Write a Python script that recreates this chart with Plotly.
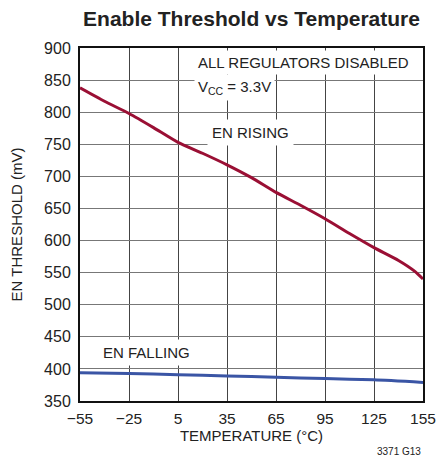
import plotly.graph_objects as go

temp_rise = [-55, -40, -25, -10, 5, 20, 35, 50, 65, 80, 95, 110, 125, 140, 150, 155]
en_rising = [838, 817, 798, 776, 753, 736, 718, 698, 675, 655, 634, 611, 589, 569, 552, 540]

temp_fall = [-55, -25, 5, 35, 65, 95, 125, 155]
en_falling = [394, 393, 391, 389, 387, 385, 383, 379]

x_ticks = [-55, -25, 5, 35, 65, 95, 125, 155]
x_tick_labels = ["\u221255", "\u221225", "5", "35", "65", "95", "125", "155"]
y_ticks = [350, 400, 450, 500, 550, 600, 650, 700, 750, 800, 850, 900]

FONT = "Liberation Sans, Arial, Helvetica, sans-serif"
H = 449

fig = go.Figure()
fig.add_trace(go.Scatter(x=temp_rise, y=en_rising, mode="lines",
                         line=dict(color="#9a0f34", width=3, shape="spline", smoothing=0.6),
                         showlegend=False))
fig.add_trace(go.Scatter(x=temp_fall, y=en_falling, mode="lines",
                         line=dict(color="#3a55a5", width=3, shape="spline", smoothing=0.6),
                         showlegend=False))

fig.update_layout(
    width=437, height=H,
    margin=dict(l=72, r=22, t=40, b=56),
    paper_bgcolor="white", plot_bgcolor="white",
    font=dict(family=FONT, size=16, color="#222"),
    title=dict(text="<b>Enable Threshold vs Temperature</b>",
               xref="paper", x=0.5, xanchor="center",
               y=1 - 11 / H, yanchor="middle",
               font=dict(family=FONT, size=21, color="#222")),
    xaxis=dict(range=[-55, 155], tickvals=x_ticks, ticktext=x_tick_labels,
               showgrid=True, gridcolor="#444", gridwidth=1,
               showline=True, linecolor="#111", linewidth=2, mirror=True,
               ticks="", zeroline=False, ticklabelstandoff=2, automargin=False,
               ticklabeloverflow="allow",
               tickfont=dict(family=FONT, size=15.5),
               title=dict(text="TEMPERATURE (\u00b0C)", standoff=4,
                          font=dict(family=FONT, size=15))),
    yaxis=dict(range=[350, 900], tickvals=y_ticks,
               showgrid=True, gridcolor="#777", gridwidth=1,
               showline=True, linecolor="#111", linewidth=2, mirror=True,
               ticks="", zeroline=False, ticklabelstandoff=4, automargin=False,
               ticklabeloverflow="allow",
               tickfont=dict(family=FONT, size=16),
               title=dict(text="EN THRESHOLD (mV)", standoff=22,
                          font=dict(family=FONT, size=15))),
)

ann = dict(showarrow=False, bgcolor="white", xref="x", yref="y",
           xanchor="left", yanchor="middle", font=dict(family=FONT, size=15, color="#222"))
fig.add_annotation(x=15, y=877, text="ALL REGULATORS DISABLED", borderpad=3, **ann)
fig.add_annotation(x=15, y=839, text="V<sub>CC</sub> = 3.3V", borderpad=3, **ann)
fig.add_annotation(x=23, y=769, text="EN RISING", borderpad=4, **ann)
fig.add_annotation(x=-44, y=426, text="EN FALLING", borderpad=4, **ann)
fig.add_annotation(x=1.0, y=-50 / 353, xref="paper", yref="paper", text="3371 G13",
                   showarrow=False, xanchor="right", yanchor="middle",
                   font=dict(family=FONT, size=10, color="#222"))

fig.write_html("out.html")
